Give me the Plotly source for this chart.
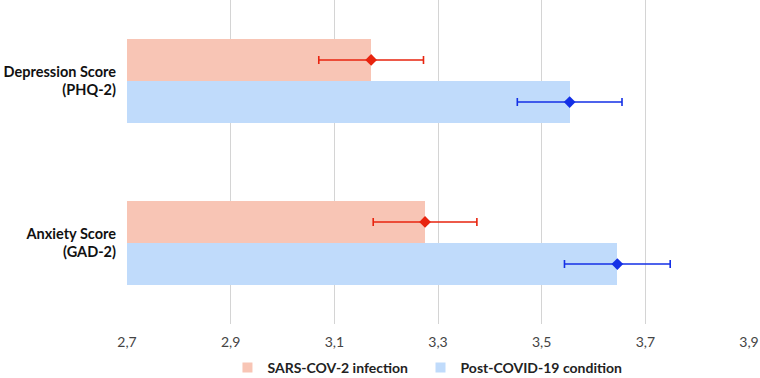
import plotly.graph_objects as go

categories = ["Depression Score<br>(PHQ-2)", "Anxiety Score<br>(GAD-2)"]
series_names = ["SARS-COV-2 infection", "Post-COVID-19 condition"]
sars_values = [3.171, 3.275]
post_values = [3.554, 3.646]
sars_err = [0.101, 0.100]
post_err = [0.101, 0.102]
tick_vals = [2.7, 2.9, 3.1, 3.3, 3.5, 3.7, 3.9]
tick_labels = ["2,7", "2,9", "3,1", "3,3", "3,5", "3,7", "3,9"]

bar_colors = ["#f8c5b5", "#c0dbfb"]
point_colors = ["#e8240f", "#1430e6"]
bar_w = 0.26

idx = list(range(len(categories)))
fig = go.Figure()
series = [(sars_values, sars_err, -1), (post_values, post_err, 1)]
for k, (vals, errs, side) in enumerate(series):
    ypos = [i + side * bar_w / 2 for i in idx]
    fig.add_trace(go.Bar(
        y=ypos, x=vals, orientation="h", width=bar_w, base=0,
        marker=dict(color=bar_colors[k], line=dict(width=0)),
        name=series_names[k], showlegend=False,
    ))
for k, (vals, errs, side) in enumerate(series):
    ypos = [i + side * bar_w / 2 for i in idx]
    fig.add_trace(go.Scatter(
        y=ypos, x=vals, mode="markers",
        marker=dict(symbol="diamond", size=9, color=point_colors[k]),
        error_x=dict(type="data", array=errs, color=point_colors[k],
                     thickness=1.6, width=4),
        showlegend=False, hoverinfo="skip",
    ))
# legend entries (square swatches), one legend box each
legend_ids = ["legend", "legend2"]
for k in range(len(series_names)):
    fig.add_trace(go.Scatter(
        x=[None], y=[None], mode="markers", name=series_names[k],
        marker=dict(symbol="square", size=10, color=bar_colors[k]),
        showlegend=True, legend=legend_ids[k],
    ))

leg_style = dict(orientation="h", xref="container", yref="container",
                 xanchor="left", y=0.0265, yanchor="middle",
                 font=dict(size=14, color="#222",
                           family="Lato, sans-serif", weight="bold"),
                 itemwidth=30, bgcolor="rgba(0,0,0,0)")

fig.update_layout(
    width=760, height=378,
    margin=dict(l=127, r=11, t=0, b=54),
    paper_bgcolor="white", plot_bgcolor="white",
    font=dict(family="Lato, Open Sans, sans-serif", color="#222"),
    bargap=0,
    legend=dict(x=0.2993, **leg_style),
    legend2=dict(x=0.5533, **leg_style),
)
fig.update_xaxes(range=[2.7, 3.9], tickvals=tick_vals, ticktext=tick_labels,
                 showgrid=True, gridcolor="#d4d4d4", gridwidth=1,
                 zeroline=False, showline=False, automargin=False,
                 tickfont=dict(size=14, color="#444"), ticks="", ticklabelstandoff=8)
fig.update_yaxes(range=[1.5, -0.5], tickvals=idx, ticktext=categories,
                 showgrid=False, zeroline=False, showline=False, ticks="",
                 automargin=False,
                 tickfont=dict(size=14.5, color="#111", weight="bold"),
                 ticklabelstandoff=10)

fig.write_html("out.html", config={"displayModeBar": False},
               post_script="document.body.style.margin='0';")
